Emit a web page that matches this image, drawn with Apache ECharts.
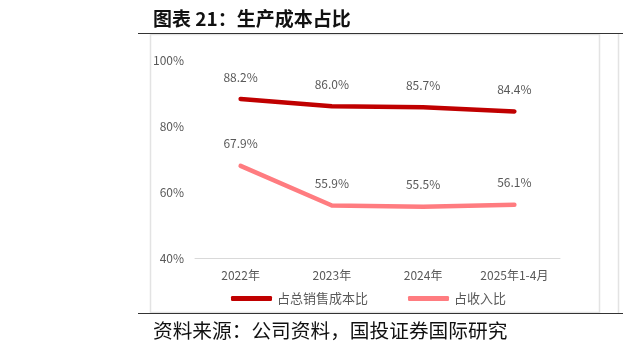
<!DOCTYPE html>
<html>
<head>
<meta charset="utf-8">
<script src="https://cdn.jsdelivr.net/npm/echarts@6/dist/echarts.min.js"></script>
<style>
  html, body { margin: 0; padding: 0; background: #fff; }
  #chart { width: 623px; height: 348px; }
</style>
</head>
<body>
<div id="chart"></div>
<script>
// Production cost share, by period
const categories = ['2022年', '2023年', '2024年', '2025年1-4月'];
const costOfSalesShare = [88.2, 86.0, 85.7, 84.4];   // 占总销售成本比
const revenueShare = [67.9, 55.9, 55.5, 56.1];       // 占收入比
const seriesNames = ['占总销售成本比', '占收入比'];
const yTicks = { min: 40, max: 100, step: 20 };

const FONT = '"Noto Sans CJK SC", "Liberation Sans", sans-serif';
const GRAY = '#595959';

const chart = echarts.init(document.getElementById('chart'), null, { renderer: 'canvas' });

const labelCfg = {
  show: true,
  position: 'top',
  distance: 15,
  color: GRAY,
  fontSize: 12,
  fontFamily: FONT,
  formatter: p => p.value.toFixed(1) + '%'
};

chart.setOption({
  backgroundColor: '#ffffff',
  animation: false,
  grid: { left: 195, right: 63, top: 60, bottom: 90, containLabel: false },
  xAxis: {
    type: 'category',
    data: categories,
    boundaryGap: true,
    axisLine: { show: true, lineStyle: { color: '#d9d9d9', width: 1 } },
    axisTick: { show: false },
    axisLabel: { color: GRAY, fontSize: 12, fontFamily: FONT, margin: 11 }
  },
  yAxis: {
    type: 'value',
    min: yTicks.min,
    max: yTicks.max,
    interval: yTicks.step,
    axisLine: { show: false },
    axisTick: { show: false },
    splitLine: { show: false },
    axisLabel: { color: GRAY, fontSize: 12, fontFamily: FONT, margin: 11, formatter: v => v + '%' }
  },
  legend: {
    left: 231,
    top: 292,
    padding: 0,
    itemWidth: 41,
    itemHeight: 5,
    itemGap: 40,
    icon: 'roundRect',
    textStyle: { color: GRAY, fontSize: 13, fontFamily: FONT },
    data: seriesNames
  },
  series: [
    {
      name: seriesNames[0],
      type: 'line',
      data: costOfSalesShare,
      symbol: 'circle',
      symbolSize: 2,
      showSymbol: true,
      lineStyle: { color: '#C00000', width: 4.5, cap: 'round', join: 'round' },
      itemStyle: { color: '#C00000' },
      label: labelCfg
    },
    {
      name: seriesNames[1],
      type: 'line',
      data: revenueShare,
      symbol: 'circle',
      symbolSize: 2,
      showSymbol: true,
      lineStyle: { color: '#FF7C80', width: 4.5, cap: 'round', join: 'round' },
      itemStyle: { color: '#FF7C80' },
      label: labelCfg
    }
  ],
  graphic: [
    // panel frame
    { type: 'rect', silent: true, z: -1, shape: { x: 150.5, y: 34.5, width: 449, height: 278 },
      style: { fill: 'none', stroke: '#e3e3e3', lineWidth: 1.5 } },
    { type: 'line', silent: true, shape: { x1: 618.5, y1: 34, x2: 618.5, y2: 313 },
      style: { stroke: '#e3e3e3', lineWidth: 1.5 } },
    // header and footer rules
    { type: 'line', silent: true, shape: { x1: 138, y1: 33.5, x2: 623, y2: 33.5 },
      style: { stroke: '#333333', lineWidth: 1.2 } },
    { type: 'line', silent: true, shape: { x1: 138, y1: 313.5, x2: 623, y2: 313.5 },
      style: { stroke: '#333333', lineWidth: 1.2 } },
    // title
    { type: 'text', left: 153, top: 9,
      style: { text: '图表 21：生产成本占比', fill: '#111', fontSize: 19, fontWeight: 'bold', fontFamily: FONT } },
    // source note
    { type: 'text', left: 153, top: 321,
      style: { text: '资料来源：公司资料，国投证券国际研究', fill: '#111', fontSize: 19.7, fontFamily: FONT } }
  ]
});
</script>
</body>
</html>
